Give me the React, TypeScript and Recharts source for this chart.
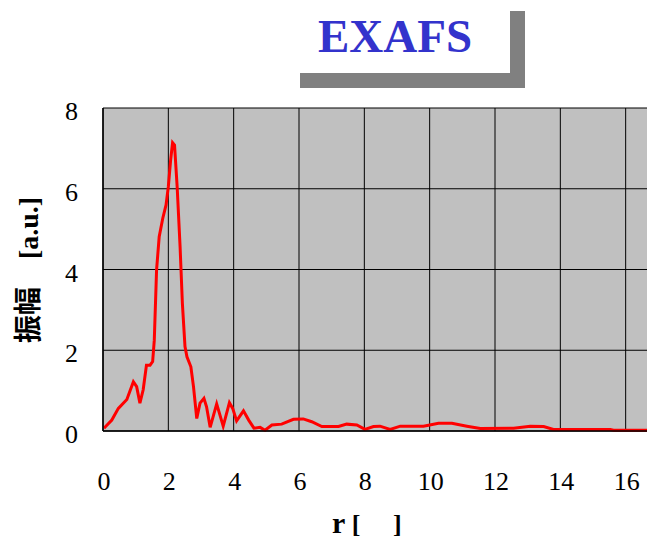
import React from "react";
import { LineChart, Line, XAxis, YAxis, CartesianGrid } from "recharts";

// radial distance r and the transform magnitude at each point
const rValues = [
  0.03, 0.27, 0.47, 0.73, 0.93, 1.03, 1.13, 1.23, 1.33, 1.44, 1.52, 1.57,
  1.64, 1.72, 1.83, 1.93, 2.0, 2.07, 2.13, 2.19, 2.27, 2.36, 2.43, 2.51,
  2.57, 2.69, 2.77, 2.87, 2.97, 3.09, 3.17, 3.28, 3.48, 3.68, 3.87, 3.97,
  4.09, 4.3, 4.46, 4.62, 4.81, 4.96, 5.17, 5.47, 5.83, 6.13, 6.39, 6.7,
  7.21, 7.46, 7.77, 8.02, 8.28, 8.48, 8.79, 9.1, 9.81, 10.27, 10.68, 11.14,
  11.55, 12.57, 13.08, 13.49, 13.79, 15.53, 15.63, 16.66, 17.5,
];
const amplitude = [
  0.07, 0.27, 0.56, 0.78, 1.22, 1.1, 0.69, 1.02, 1.63, 1.63, 1.72, 2.25,
  3.99, 4.81, 5.27, 5.6, 6.05, 6.71, 7.14, 7.08, 6.05, 4.56, 3.16, 2.09,
  1.84, 1.59, 1.1, 0.31, 0.69, 0.81, 0.6, 0.09, 0.67, 0.12, 0.7, 0.56,
  0.25, 0.5, 0.27, 0.07, 0.09, 0.02, 0.15, 0.17, 0.29, 0.3, 0.23, 0.11,
  0.11, 0.17, 0.15, 0.04, 0.11, 0.12, 0.04, 0.12, 0.12, 0.19, 0.19, 0.12,
  0.06, 0.07, 0.12, 0.11, 0.04, 0.04, 0.02, 0.02, 0.02,
];
const xTicks = [0, 2, 4, 6, 8, 10, 12, 14, 16];
const yTicks = [0, 2, 4, 6, 8];

const data = rValues.map((r, i) => ({ r, amp: amplitude[i] }));

const SERIF = "'Liberation Serif', 'Times New Roman', serif";

const YTick = ({ x, y, payload }: any) => (
  <text x={x} y={y + 12} textAnchor="end" fontFamily={SERIF} fontSize={26} fill="#000">
    {payload.value}
  </text>
);

const XTick = ({ x, y, payload }: any) => (
  <text x={x + 1} y={y} textAnchor="middle" fontFamily={SERIF} fontSize={26} fill="#000">
    {payload.value}
  </text>
);

export default function App() {
  return (
    <div
      style={{
        position: "absolute",
        left: 0,
        top: 0,
        width: 647,
        height: 539,
        overflow: "hidden",
        background: "#fff",
      }}
    >
      <LineChart
        width={700}
        height={539}
        data={data}
        margin={{ top: 108, right: 9, left: 0, bottom: 0 }}
      >
        <CartesianGrid fill="#C0C0C0" stroke="#000" strokeWidth={1} />
        <XAxis
          dataKey="r"
          type="number"
          domain={[0, 18]}
          ticks={xTicks}
          height={108}
          tickSize={0}
          tickMargin={59}
          tick={<XTick />}
          axisLine={{ stroke: "#000", strokeWidth: 1.5 }}
          tickLine={false}
        />
        <YAxis
          type="number"
          domain={[0, 8]}
          ticks={yTicks}
          width={103}
          tickSize={0}
          tickMargin={25}
          tick={<YTick />}
          axisLine={{ stroke: "#000", strokeWidth: 1.5 }}
          tickLine={false}
        />
        <Line
          dataKey="amp"
          type="linear"
          stroke="#FF0000"
          strokeWidth={3}
          dot={false}
          isAnimationActive={false}
        />
      </LineChart>

      {/* axis titles */}
      <svg
        width={647}
        height={539}
        style={{ position: "absolute", left: 0, top: 0, pointerEvents: "none" }}
      >
        <text
          x={28}
          y={270}
          textAnchor="middle"
          dominantBaseline="central"
          transform="rotate(-90, 28, 270)"
          fontFamily={`${SERIF}, 'Noto Sans CJK JP'`}
          fontWeight="bold"
          fontSize={28}
          fill="#000"
        >
          振幅　[a.u.]
        </text>
        <text x={332} y={533} fontFamily={SERIF} fontWeight="bold" fill="#000">
          <tspan fontSize={30}>r</tspan>
          <tspan fontSize={26}>{" [\u2003\u2005]"}</tspan>
        </text>
      </svg>

      {/* title box */}
      <div
        style={{
          position: "absolute",
          left: 285,
          top: -4,
          width: 225,
          height: 77,
          background: "#fff",
          boxShadow: "15px 15px 0 #808080",
        }}
      />
      <div
        style={{
          position: "absolute",
          left: 285,
          top: 13,
          width: 220,
          textAlign: "center",
          fontFamily: SERIF,
          fontWeight: "bold",
          fontSize: 47,
          lineHeight: "47px",
          color: "#3333CC",
        }}
      >
        EXAFS
      </div>
    </div>
  );
}
